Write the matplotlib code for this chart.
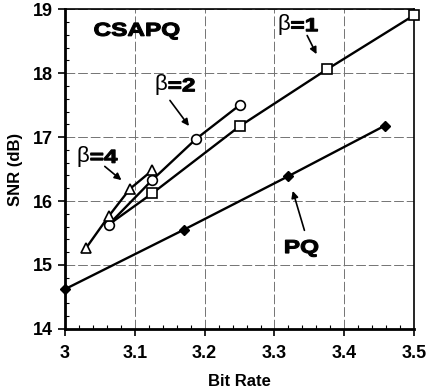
import matplotlib.pyplot as plt
import matplotlib.transforms as mtransforms
from matplotlib.ticker import MultipleLocator
from matplotlib.textpath import TextPath
from matplotlib.patches import PathPatch
from matplotlib.font_manager import FontProperties

plt.rcParams['font.family'] = ['Liberation Sans', 'DejaVu Sans']

# beta = 1 (squares); first point sits under the circle
b1_rate = [3.0625, 3.125, 3.25, 3.375, 3.5]
b1_snr = [15.63, 16.12, 17.17, 18.06, 18.91]
# beta = 2 (circles)
b2_rate = [3.0625, 3.125, 3.1875, 3.25]
b2_snr = [15.63, 16.33, 16.97, 17.50]
# beta = 4 (triangles)
b4_rate = [3.03, 3.0625, 3.093, 3.125]
b4_snr = [15.26, 15.76, 16.19, 16.48]
# PQ (diamonds)
pq_rate = [3.0, 3.17, 3.32, 3.458]
pq_snr = [14.62, 15.55, 16.39, 17.18]

fig = plt.figure(figsize=(4.27, 3.91), dpi=100)
ax = fig.add_axes([0.152, 0.159, 0.818, 0.817])

ax.plot(b1_rate, b1_snr, '-', color='k', lw=1.7, marker='s', ms=7,
        mfc='white', mec='k', mew=1.2, markevery=[1, 2, 3, 4], zorder=3,
        clip_on=False)
ax.plot(b2_rate, b2_snr, '-', color='k', lw=1.7, marker='o', ms=7,
        mfc='white', mec='k', mew=1.2, zorder=3)
ax.plot(b4_rate, b4_snr, '-', color='k', lw=1.7, marker='^', ms=7,
        mfc='white', mec='k', mew=1.2, zorder=3)
ax.plot(pq_rate, pq_snr, '-', color='k', lw=1.7, marker='D', ms=5,
        mfc='k', mec='k', zorder=3, clip_on=False)

ax.set_xlim(3.0, 3.5)
ax.set_ylim(14, 19)
ax.xaxis.set_minor_locator(MultipleLocator(0.02))
ax.yaxis.set_major_locator(MultipleLocator(1))
ax.yaxis.set_minor_locator(MultipleLocator(0.2))
ax.set_xticks([3.0, 3.1, 3.2, 3.3, 3.4, 3.5])
ax.set_xticklabels(['3', '3.1', '3.2', '3.3', '3.4', '3.5'])
ax.tick_params(which='major', direction='out', length=5, width=1.2,
               labelsize=13)
ax.tick_params(axis='x', which='major', pad=7)
ax.tick_params(which='minor', direction='in', length=3, width=0.8)
for lab in ax.get_xticklabels() + ax.get_yticklabels():
    lab.set_fontweight('bold')

ax.grid(True, which='major', color='0.45', lw=0.7, ls=(0, (10, 3)))
for side in ['left', 'bottom']:
    ax.spines[side].set_linewidth(2)
for side in ['top', 'right']:
    ax.spines[side].set_linewidth(1.2)

ax.set_xlabel('Bit Rate', fontsize=12, fontweight='bold', labelpad=8)
ax.set_ylabel('SNR (dB)', fontsize=12, fontweight='bold', labelpad=7)

heavy = FontProperties(family='Liberation Sans', weight='bold')


def heavy_text(x, y, s, size=13.5, sx=1.3, ha='center'):
    # wide black lettering, like Arial Black
    tp = TextPath((0, 0), s, size=size, prop=heavy)
    bb = tp.get_extents()
    cy = (bb.y0 + bb.y1) / 2
    cx = (bb.x0 + bb.x1) / 2 if ha == 'center' else bb.x0
    tr = (mtransforms.Affine2D().translate(-cx, -cy).scale(sx, 1)
          .scale(fig.dpi / 72.0)
          + mtransforms.ScaledTranslation(x, y, ax.transData))
    ax.add_patch(PathPatch(tp, transform=tr, fc='k', ec='k', lw=0.8,
                           clip_on=False, zorder=4))


heavy_text(3.103, 18.66, 'CSAPQ')
heavy_text(3.339, 15.26, 'PQ')

arrow = dict(arrowstyle='-|>', color='k', lw=1.2, mutation_scale=10)
labels = [('=1', (3.3223, 18.76), (3.345, 18.63), (3.362, 18.26)),
          ('=2', (3.1466, 17.82), (3.148, 17.61), (3.180, 17.14)),
          ('=4', (3.0349, 16.70), (3.054, 16.57), (3.084, 16.30))]
for num, (tx, ty), tail, head in labels:
    ax.text(tx, ty, '\u03b2', fontsize=16, ha='right', va='center')
    heavy_text(tx + 0.002, ty, num, ha='left')
    ax.annotate('', xy=head, xytext=tail, arrowprops=arrow)
ax.annotate('', xy=(3.325, 16.20), xytext=(3.344, 15.50), arrowprops=arrow)

fig.savefig('out.png', dpi=100)
